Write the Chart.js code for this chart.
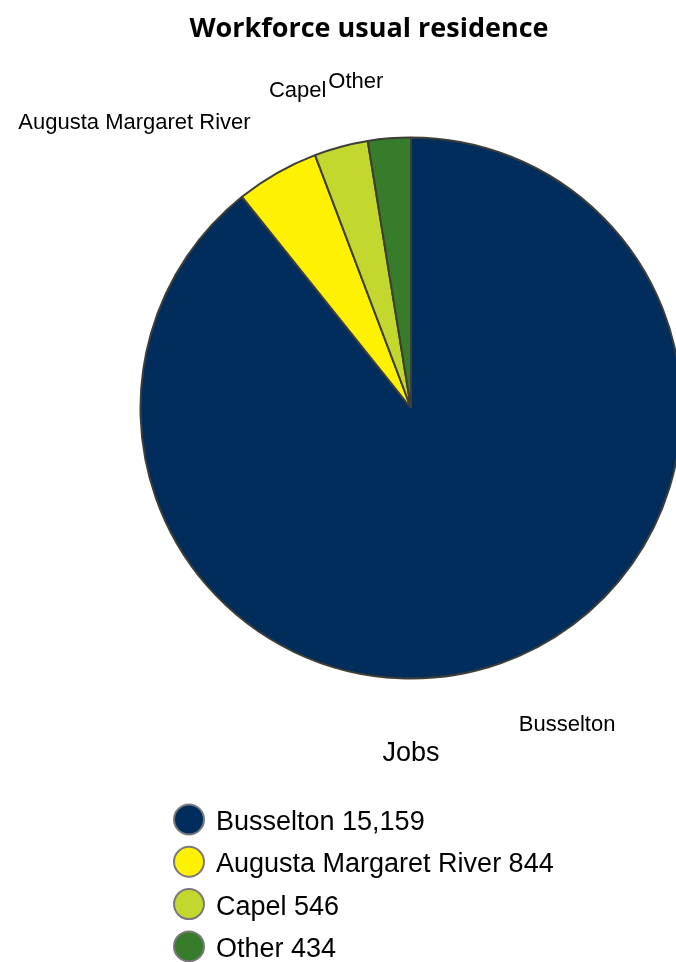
<!DOCTYPE html>
<html>
<head>
<meta charset="utf-8">
<title>Workforce usual residence</title>
<script src="https://cdn.jsdelivr.net/npm/chart.js@4.4.1/dist/chart.umd.min.js"></script>
<style>
  html, body { margin: 0; padding: 0; background: #ffffff; overflow: hidden; }
  #wrap { width: 676px; height: 962px; }
</style>
</head>
<body>
<div id="wrap"><canvas id="chart" width="676" height="962"></canvas></div>
<script>
// Where the workforce usually lives (number of jobs)
const categories = ['Busselton', 'Augusta Margaret River', 'Capel', 'Other'];
const jobs = [15159, 844, 546, 434];
const sliceColours = ['#002d5c', '#fff200', '#c3d82f', '#367c2b'];

const chartTitle = 'Workforce usual residence';
const axisCaption = 'Jobs';

const LABEL_FONT = '"Liberation Sans", Arial, Helvetica, sans-serif';

// Text drawn around the pie: title, slice names, caption and the legend list
const pieText = {
  id: 'pieText',
  afterDraw(chart) {
    const ctx = chart.ctx;
    const meta = chart.getDatasetMeta(0);
    const values = chart.data.datasets[0].data;
    const colours = chart.data.datasets[0].backgroundColor;
    const first = meta.data[0];
    const cx = first.x, cy = first.y, R = first.outerRadius;

    ctx.save();
    ctx.fillStyle = '#000000';

    // title
    ctx.font = 'bold 27px "Open Sans", Lato, sans-serif';
    ctx.textAlign = 'center';
    ctx.textBaseline = 'alphabetic';
    ctx.fillText(chartTitle, 369, 37);

    // slice names outside the pie, anchored along each slice's middle angle
    ctx.font = '22px ' + LABEL_FONT;
    meta.data.forEach((arc, i) => {
      const p = arc.getProps(['x', 'y', 'startAngle', 'endAngle', 'outerRadius'], true);
      const mid = (p.startAngle + p.endAngle) / 2;
      const dx = Math.cos(mid), dy = Math.sin(mid);
      const r = p.outerRadius + 49;
      const ax = p.x + dx * r, ay = p.y + dy * r;
      ctx.textAlign = dx < 0 ? 'right' : 'left';
      const tx = ax + (dx < 0 ? -2 : 2);
      const ty = dy < 0 ? ay - 2 : ay + 22;
      ctx.fillText(chart.data.labels[i], tx, ty);
    });

    // caption under the pie
    ctx.font = '27px ' + LABEL_FONT;
    ctx.textAlign = 'center';
    ctx.fillText(axisCaption, cx, cy + R + 82);

    // legend list
    const rowTop = cy + R + 141;
    const rowGap = 42.3;
    ctx.font = '27px ' + LABEL_FONT;
    ctx.textAlign = 'left';
    chart.data.labels.forEach((name, i) => {
      const yc = rowTop + i * rowGap;
      ctx.beginPath();
      ctx.arc(189, yc, 15, 0, Math.PI * 2);
      ctx.fillStyle = colours[i];
      ctx.fill();
      ctx.lineWidth = 2;
      ctx.strokeStyle = '#7a7a7a';
      ctx.stroke();
      ctx.fillStyle = '#000000';
      ctx.fillText(name + ' ' + values[i].toLocaleString('en-AU'), 216, yc + 10.5);
    });
    ctx.restore();
  }
};

new Chart(document.getElementById('chart'), {
  type: 'pie',
  data: {
    labels: categories,
    datasets: [{
      data: jobs,
      backgroundColor: sliceColours,
      borderColor: '#3e3e38',
      borderWidth: 2
    }]
  },
  options: {
    responsive: false,
    animation: false,
    devicePixelRatio: 1,
    radius: 270.5,
    layout: { padding: { left: 146, right: 0, top: 136, bottom: 282 } },
    plugins: {
      legend: { display: false },
      title: { display: false },
      tooltip: { enabled: false }
    }
  },
  plugins: [pieText]
});
</script>
</body>
</html>
